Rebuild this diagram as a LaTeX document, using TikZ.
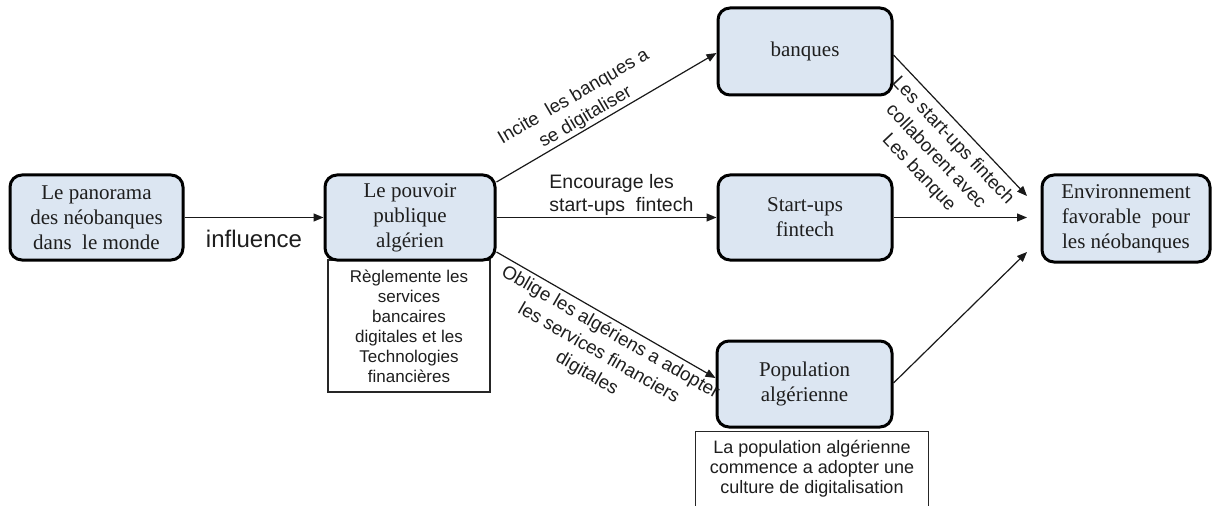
\documentclass[tikz,border=0pt]{standalone}
\usepackage{fontspec}
\setmainfont{Liberation Serif}
\setsansfont{Liberation Sans}
\usetikzlibrary{arrows.meta,calc}
\definecolor{boxfill}{RGB}{220,230,242}
\definecolor{ink}{RGB}{30,30,30}
\begin{document}
\begin{tikzpicture}[x=0.75pt,y=-0.75pt,
  box/.style={draw=black, line width=2.25pt, rounded corners=9pt, fill=boxfill,
    align=center, text=ink, inner sep=0pt,
    font=\fontsize{15.75}{18.75}\selectfont},
  note/.style={align=center, text=ink, inner sep=0pt,
    font=\sffamily\fontsize{12.75}{15}\selectfont},
  notebox/.style={note, draw=black!85, line width=1pt, fill=white},
  link/.style={draw=black!90, line width=0.9pt, -{Triangle[length=7.5pt,width=6pt]}},
  lbl/.style={align=center, text=ink, font=\sffamily\fontsize{14}{17.6}\selectfont}]

\fill[white] (0,0) rectangle (1213,506);
\useasboundingbox (0,0) rectangle (1213,506);

% side notes (drawn first so the boxes sit on top of them)
\node[notebox, minimum width=121.5pt, minimum height=99pt] (regle) at (409,326)
  {Règlemente les\\services\\bancaires\\digitales et les\\Technologies\\financières};
\node[note, minimum width=174pt, minimum height=55.5pt,
  font=\sffamily\fontsize{13.5}{15}\selectfont] (culture) at (812,469)
  {La population algérienne\\commence a adopter une\\culture de digitalisation};
\draw[draw=black!85, line width=1pt]
  (culture.south west) -- (culture.north west) -- (culture.north east) -- (culture.south east);

% main boxes
\node[box, minimum width=129.75pt, minimum height=63.75pt] (pano) at (96.5,217.5)
  {Le panorama\\des néobanques\\dans\ \ le monde};
\node[box, minimum width=127.5pt, minimum height=63.75pt] (pouvoir) at (410,217.5)
  {Le pouvoir\\publique\\algérien};
\node[box, minimum width=130.5pt, minimum height=65.25pt] (banques) at (805,51.5)
  {banques};
\node[box, minimum width=130.5pt, minimum height=63.75pt] (startups) at (805,217.5)
  {Start-ups\\fintech};
\node[box, minimum width=131.25pt, minimum height=64.5pt] (pop) at (804.5,384)
  {Population\\algérienne};
\node[box, minimum width=126pt, minimum height=65.25pt] (env) at (1126,218.5)
  {Environnement\\favorable\ \ pour\\les néobanques};

% arrow ends in front of the last box
\coordinate (e1) at (1027,196);
\coordinate (e2) at (1027,217.5);
\coordinate (e3) at (1027,252);

% connectors
\draw[link] (pano) -- (pouvoir)
  node[midway, below=9pt, inner sep=0pt, text=ink,
       font=\sffamily\fontsize{18}{21}\selectfont] {influence};
\draw[link] ($(pouvoir.east)+(0,-35.5)$) -- ($(banques.west)+(0,1.5)$)
  node[pos=0.43, sloped, above, lbl, inner sep=1pt] {Incite\ \ les banques a\\se digitaliser};
\draw[link] (pouvoir) -- (startups)
  node[pos=0.238, anchor=south west, lbl, align=left, inner xsep=0pt, inner ysep=1pt,
       font=\sffamily\fontsize{14.6}{17.4}\selectfont]
  {Encourage les\\start-ups\ \ fintech};
\draw[link] ($(pouvoir.east)+(0,34.5)$) -- ($(pop.west)+(0,-6)$)
  node[pos=0.55, sloped, below, lbl, inner sep=3pt]
  {Oblige les algériens a adopter\\les services financiers\\digitales};
\draw[link] ($(banques.east)+(0,3.5)$) -- (e1)
  node[pos=0.53, sloped, below, lbl, inner sep=5pt]
  {Les start-ups fintech\\collaborent avec\\Les banque};
\draw[link] (startups) -- (e2);
\draw[link] ($(pop.east)+(0,-1)$) -- (e3);
\end{tikzpicture}
\end{document}
